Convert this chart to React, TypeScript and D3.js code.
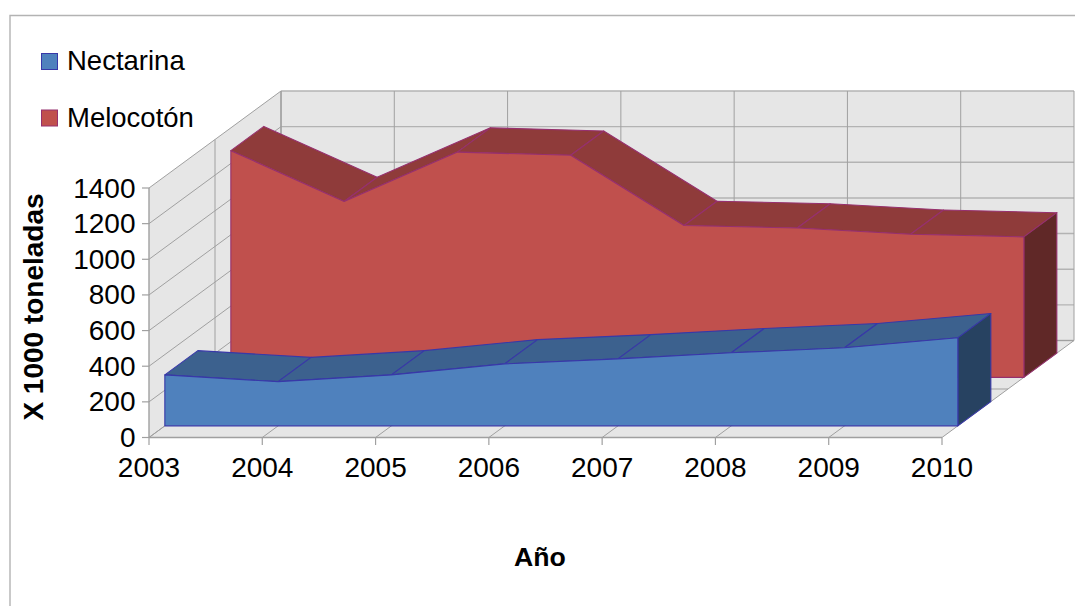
import React from "react";
import * as d3 from "d3";

const years = [2003, 2004, 2005, 2006, 2007, 2008, 2009, 2010];
const nectarina = [286, 248, 286, 348, 376, 410, 438, 494];
const melocoton = [1272, 987, 1264, 1246, 852, 838, 803, 788];
const yTicks = [0, 200, 400, 600, 800, 1000, 1200, 1400];
const depthGrid = [0, 0.5, 1];

const x = d3.scaleLinear().domain([2003, 2010]).range([149, 942]);
const y = d3.scaleLinear().domain([0, 1400]).range([437.5, 188]);
const dxz = d3.scaleLinear().domain([0, 1]).range([0, 132]);
const dyz = d3.scaleLinear().domain([0, 1]).range([0, -97]);
const P = (yr: number, v: number, z: number): [number, number] => [x(yr) + dxz(z), y(v) + dyz(z)];
const poly = d3.line<[number, number]>().curve(d3.curveLinearClosed);
const Y0 = 2003, Y1 = 2010, VM = 1400;

function Band({ values, z0, z1, front, top, side, stroke }: { values: number[]; z0: number; z1: number; front: string; top: string; side: string; stroke: string }) {
  const last = years.length - 1;
  const frontPts: [number, number][] = [
    P(years[0], 0, z0),
    ...years.map((yr, i) => P(yr, values[i], z0)),
    P(years[last], 0, z0),
  ];
  const sw = 1.1;
  return (
    <g strokeLinejoin="round" stroke={stroke} strokeWidth={sw}>
      {years.slice(0, last).map((yr, i) => (
        <path
          key={yr}
          fill={top}
          d={poly([
            P(yr, values[i], z0),
            P(years[i + 1], values[i + 1], z0),
            P(years[i + 1], values[i + 1], z1),
            P(yr, values[i], z1),
          ]) as string}
        />
      ))}
      <path
        fill={side}
        d={poly([
          P(years[last], 0, z0),
          P(years[last], values[last], z0),
          P(years[last], values[last], z1),
          P(years[last], 0, z1),
        ]) as string}
      />
      <path fill={front} d={poly(frontPts) as string} />
    </g>
  );
}

export default function App() {
  const gridV = "#a0a0a0";
  const gridH = "#b3b3b3";
  const line = (a: [number, number], b: [number, number], k: string, c: string, w = 1) => (
    <line key={k} x1={a[0]} y1={a[1]} x2={b[0]} y2={b[1]} stroke={c} strokeWidth={w} />
  );
  return (
    <svg
      width={1075}
      height={606}
      style={{ position: "absolute", left: 0, top: 0, background: "#fff", fontFamily: "'Liberation Sans', Arial, sans-serif" }}
    >
      <path d="M10 606V15.5H1075" fill="none" stroke="#b3b3b3" strokeWidth={1.4} />

      <path fill="#e6e6e6" d={poly([P(Y0, 0, 0), P(Y0, VM, 0), P(Y0, VM, 1), P(Y0, 0, 1)]) as string} />
      <path fill="#e6e6e6" d={poly([P(Y0, 0, 1), P(Y0, VM, 1), P(Y1, VM, 1), P(Y1, 0, 1)]) as string} />
      <path fill="#e6e6e6" d={poly([P(Y0, 0, 0), P(Y1, 0, 0), P(Y1, 0, 1), P(Y0, 0, 1)]) as string} />

      {yTicks.map((t) => (
        <g key={t}>
          {line(P(Y0, t, 0), P(Y0, t, 1), `l${t}`, gridV)}
          {line(P(Y0, t, 1), P(Y1, t, 1), `b${t}`, gridH, 1.4)}
        </g>
      ))}
      {years.map((yr) => (
        <g key={yr}>
          {line(P(yr, 0, 0), P(yr, 0, 1), `f${yr}`, gridV)}
          {line(P(yr, 0, 1), P(yr, VM, 1), `w${yr}`, gridV, yr === Y0 ? 1.4 : 1)}
        </g>
      ))}
      {depthGrid.map((z) => (
        <g key={z}>
          {line(P(Y0, 0, z), P(Y0, VM, z), `dv${z}`, gridV, z === 0 ? 1.4 : 1)}
          {line(P(Y0, 0, z), P(Y1, 0, z), `dh${z}`, gridV, z === 0 ? 1.6 : 1)}
        </g>
      ))}

      <Band values={melocoton} z0={0.62} z1={0.87} front="#c0504d" top="#8f3b3a" side="#602827" stroke="#96306e" />
      <Band values={nectarina} z0={0.12} z1={0.37} front="#4f81bd" top="#3c618e" side="#274261" stroke="#3838a8" />

      {yTicks.map((t) => (
        <g key={t}>
          <line x1={142} x2={149} y1={y(t)} y2={y(t)} stroke="#a0a0a0" strokeWidth={1.2} />
          <text x={135.5} y={y(t) + 9.5} textAnchor="end" fontSize={28} fill="#000">
            {t}
          </text>
        </g>
      ))}
      {years.map((yr) => (
        <g key={yr}>
          <line x1={x(yr)} x2={x(yr)} y1={437.5} y2={445} stroke="#a0a0a0" strokeWidth={1.2} />
          <text x={x(yr)} y={477} textAnchor="middle" fontSize={28} fill="#000">
            {yr}
          </text>
        </g>
      ))}

      <text transform="translate(43,307) rotate(-90)" textAnchor="middle" fontSize={28} fontWeight="bold" fill="#000">
        X 1000 toneladas
      </text>
      <text x={540} y={566} textAnchor="middle" fontSize={26.67} fontWeight="bold" fill="#000">
        Año
      </text>

      <rect x={41.5} y={53.5} width={16} height={16} fill="#4f81bd" stroke="#3838a8" strokeWidth={1} />
      <text x={67} y={70} fontSize={27.5} fill="#000">Nectarina</text>
      <rect x={41.5} y={110} width={16} height={16} fill="#c0504d" stroke="#96306e" strokeWidth={1} />
      <text x={67} y={126.5} fontSize={27.5} fill="#000">Melocotón</text>
    </svg>
  );
}
